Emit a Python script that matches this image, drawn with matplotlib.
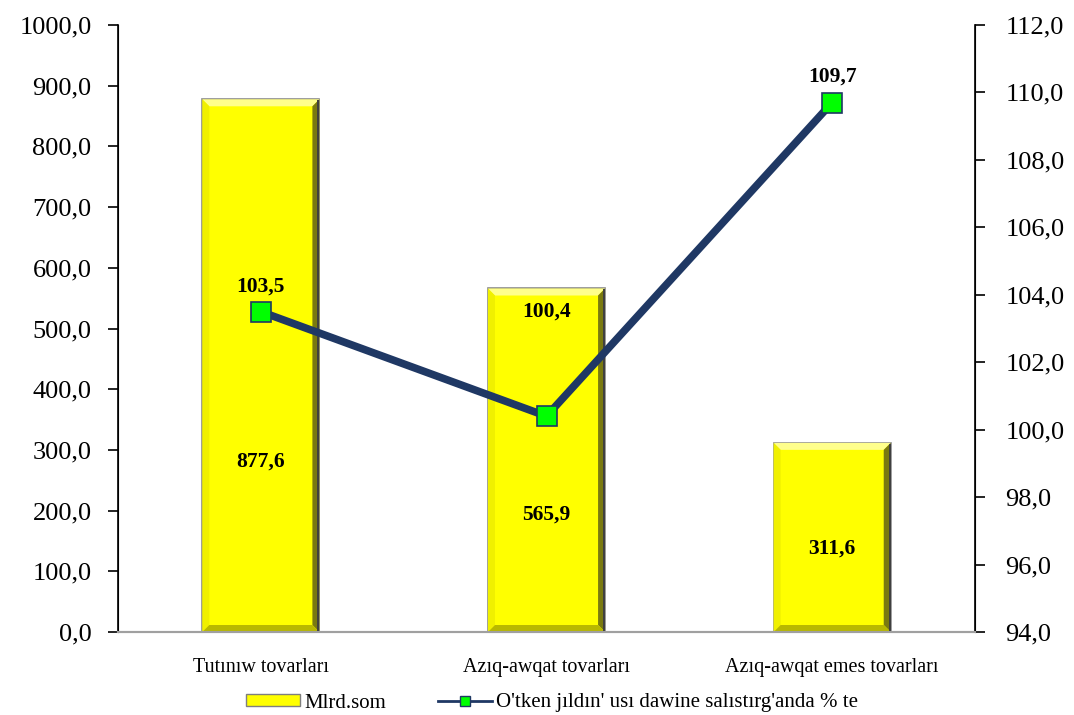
import numpy as np
import matplotlib.pyplot as plt
from matplotlib.patches import Patch, Polygon
from matplotlib.lines import Line2D

categories = ["Tutınıw tovarları", "Azıq-awqat tovarları", "Azıq-awqat emes tovarları"]
volume = [877.6, 565.9, 311.6]
growth = [103.5, 100.4, 109.7]
bar_label_y = [280, 194, 137]
line_label_y = [104.24, 103.5, 110.47]

plt.rcParams["font.family"] = ["Liberation Serif", "DejaVu Serif"]


def fmt(v):
    return f"{v:.1f}".replace(".", ",")


def bevel(ax, rect, b=7):
    # fake the 3d bevel of the office-style bars
    x0, y0 = ax.transData.transform((rect.get_x(), rect.get_y()))
    x1, y1 = ax.transData.transform((rect.get_x() + rect.get_width(), rect.get_y() + rect.get_height()))
    inv = ax.transData.inverted()
    parts = [
        ([(x0, y1), (x1, y1), (x1 - b, y1 - b), (x0 + b, y1 - b)], "#FFFF8C"),
        ([(x0, y0), (x0, y1), (x0 + b, y1 - b), (x0 + b, y0 + b)], "#F0F000"),
        ([(x1, y0), (x1, y1), (x1 - b, y1 - b), (x1 - b, y0 + b)], "#7A7A10"),
        ([(x0, y0), (x1, y0), (x1 - b, y0 + b), (x0 + b, y0 + b)], "#B8B800"),
    ]
    for pts, col in parts:
        ax.add_patch(Polygon(inv.transform(pts), closed=True, facecolor=col,
                             edgecolor="none", zorder=2.5))
    ax.add_patch(Polygon(inv.transform([(x1 - 2, y0), (x1 - 2, y1 - 1), (x1, y1 - 1), (x1, y0)]),
                         closed=True, facecolor="#404040", edgecolor="none", zorder=2.6))


fig = plt.figure(figsize=(10.74, 7.15), dpi=100)
ax = fig.add_axes([118 / 1074, 1 - 632 / 715, 857 / 1074, 607 / 715])
ax2 = ax.twinx()

x = np.arange(len(categories))
ax.set_xlim(-0.5, 2.5)
ax.set_ylim(0, 1000)
ax2.set_ylim(94, 112)

bars = ax.bar(x, volume, width=0.41, color="#FFFF00", edgecolor="#8C8C8C", linewidth=1.2, zorder=2)
for r in bars:
    bevel(ax, r)
for xi, v, ly in zip(x, volume, bar_label_y):
    ax.text(xi, ly, fmt(v), ha="center", va="center", fontsize=15.5, fontweight="bold", zorder=5)

ax2.plot(x, growth, color="#1F3864", linewidth=5.5, marker="s", markersize=15,
         markerfacecolor="#00FF00", markeredgecolor="#1F3864", markeredgewidth=1.2, zorder=4)
for xi, g, ly in zip(x, growth, line_label_y):
    ax2.text(xi, ly, fmt(g), ha="center", va="center", fontsize=15.5, fontweight="bold", zorder=5)

ax.set_yticks(np.arange(0, 1001, 100))
ax.set_yticklabels([fmt(v) for v in np.arange(0, 1001, 100)], fontsize=19)
ax2.set_yticks(np.arange(94, 112.1, 2))
ax2.set_yticklabels([fmt(v) for v in np.arange(94, 112.1, 2)], fontsize=19)
ax.set_xticks(x)
ax.set_xticklabels(categories, fontsize=14.5)

for a in (ax, ax2):
    a.spines["top"].set_visible(False)
    a.spines["bottom"].set_color("#A0A0A0")
    a.spines["bottom"].set_linewidth(1.5)
ax.spines["left"].set_linewidth(1.2)
ax2.spines["right"].set_linewidth(1.2)
ax.tick_params(axis="y", direction="out", length=7, width=1.2, pad=12)
ax2.tick_params(axis="y", direction="out", length=7, width=1.2, pad=15)
ax.tick_params(axis="x", length=0, pad=19)

handles = [
    Patch(facecolor="#FFFF00", edgecolor="#7F7F7F", label="Mlrd.som"),
    Line2D([0], [0], color="#1F3864", linewidth=2, marker="s", markersize=7,
           markerfacecolor="#00FF00", markeredgecolor="#1F3864",
           label="O'tken jıldın' usı dawine salıstırg'anda % te"),
]
fig.legend(handles=handles, loc="center", bbox_to_anchor=(552 / 1074, 1 - 703 / 715),
           ncol=2, frameon=False, fontsize=15, handlelength=2.6, columnspacing=2.5,
           handleheight=0.5, handletextpad=0.2)

fig.savefig("out.png", dpi=100)
